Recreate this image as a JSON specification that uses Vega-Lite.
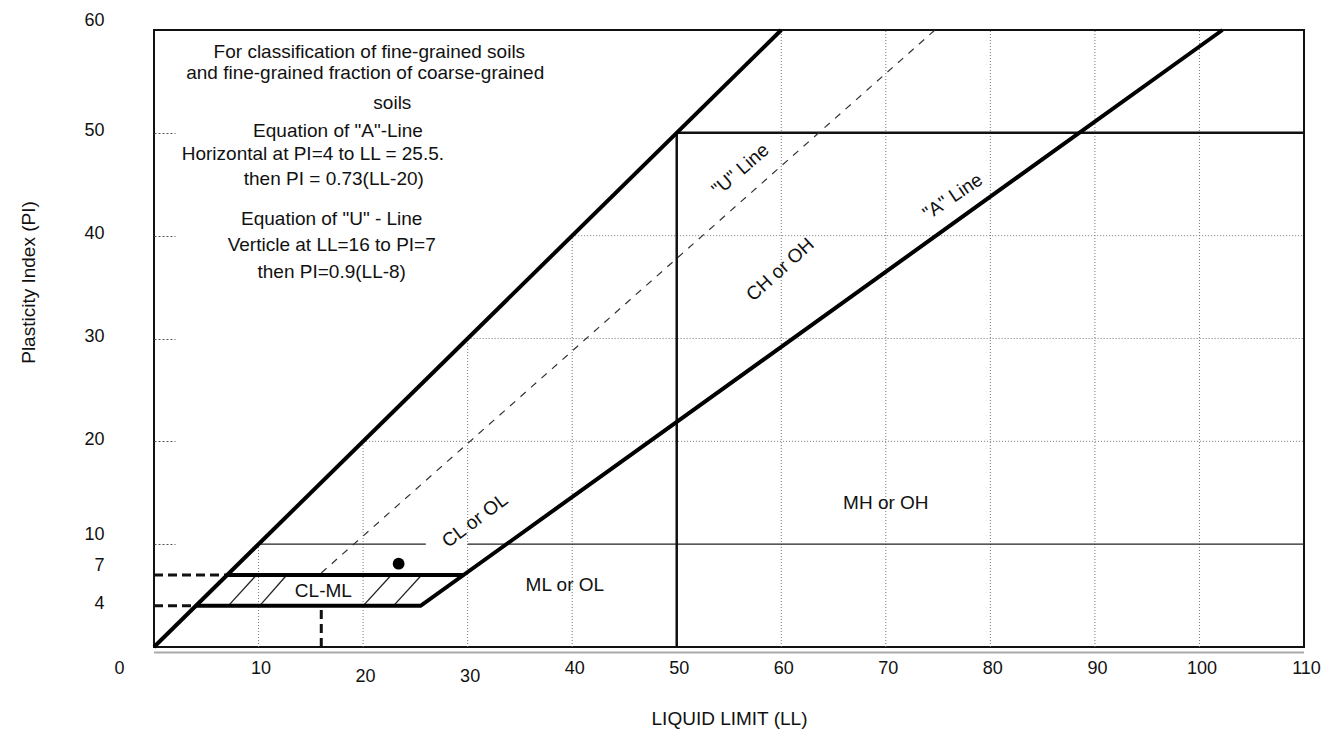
{
  "$schema": "https://vega.github.io/schema/vega-lite/v6.json",
  "width": 1150,
  "height": 617,
  "autosize": {"type": "none"},
  "padding": {"left": 154, "top": 30, "right": 35, "bottom": 93},
  "background": "white",
  "config": {
    "view": {"stroke": "#111", "strokeWidth": 2},
    "font": "Liberation Sans",
    "text": {"font": "Liberation Sans", "fontSize": 19, "color": "#111"}
  },
  "datasets": {
    "grid": [
      {"LL": 10, "PI": 0, "LL2": 10, "PI2": 10},
      {"LL": 20, "PI": 0, "LL2": 20, "PI2": 20},
      {"LL": 30, "PI": 0, "LL2": 30, "PI2": 30},
      {"LL": 40, "PI": 0, "LL2": 40, "PI2": 40},
      {"LL": 60, "PI": 0, "LL2": 60, "PI2": 60},
      {"LL": 70, "PI": 0, "LL2": 70, "PI2": 60},
      {"LL": 80, "PI": 0, "LL2": 80, "PI2": 60},
      {"LL": 90, "PI": 0, "LL2": 90, "PI2": 60},
      {"LL": 100, "PI": 0, "LL2": 100, "PI2": 60},
      {"LL": 20, "PI": 20, "LL2": 110, "PI2": 20},
      {"LL": 30, "PI": 30, "LL2": 110, "PI2": 30},
      {"LL": 40, "PI": 40, "LL2": 110, "PI2": 40}
    ],
    "thin": [
      {"LL": 10, "PI": 10, "LL2": 26, "PI2": 10},
      {"LL": 30, "PI": 10, "LL2": 110, "PI2": 10},
      {"LL": 7.1, "PI": 4, "LL2": 9.8, "PI2": 7},
      {"LL": 10.1, "PI": 4, "LL2": 12.7, "PI2": 7},
      {"LL": 20.0, "PI": 4, "LL2": 22.7, "PI2": 7},
      {"LL": 22.9, "PI": 4, "LL2": 25.6, "PI2": 7}
    ],
    "medium": [
      {"LL": 50, "PI": 0, "LL2": 50, "PI2": 50},
      {"LL": 50, "PI": 50, "LL2": 110, "PI2": 50}
    ],
    "dashthick": [
      {"LL": 0, "PI": 4, "LL2": 4, "PI2": 4},
      {"LL": 0, "PI": 7, "LL2": 7, "PI2": 7},
      {"LL": 16, "PI": 0, "LL2": 16, "PI2": 4}
    ],
    "uline": [
      {"LL": 16, "PI": 7.2, "LL2": 74.7, "PI2": 60}
    ],
    "thick": [
      {"seg": "upper", "o": 1, "LL": 0, "PI": 0},
      {"seg": "upper", "o": 2, "LL": 60, "PI": 60},
      {"seg": "A", "o": 1, "LL": 4, "PI": 4},
      {"seg": "A", "o": 2, "LL": 25.5, "PI": 4},
      {"seg": "A", "o": 3, "LL": 102.2, "PI": 60},
      {"seg": "P7", "o": 1, "LL": 7, "PI": 7},
      {"seg": "P7", "o": 2, "LL": 29.6, "PI": 7}
    ],
    "note": [
      {"t": "For classification of fine-grained soils", "LL": 20.6, "PI": 57.9},
      {"t": "and fine-grained fraction of coarse-grained", "LL": 20.2, "PI": 55.8},
      {"t": "soils", "LL": 22.8, "PI": 52.9},
      {"t": "Equation of \"A\"-Line", "LL": 17.6, "PI": 50.2},
      {"t": "Horizontal at PI=4 to LL = 25.5.", "LL": 15.2, "PI": 47.9},
      {"t": "then PI = 0.73(LL-20)", "LL": 17.2, "PI": 45.5},
      {"t": "Equation of \"U\" - Line", "LL": 17.0, "PI": 41.6},
      {"t": "Verticle at LL=16 to PI=7", "LL": 17.0, "PI": 39.1},
      {"t": "then PI=0.9(LL-8)", "LL": 17.0, "PI": 36.5}
    ],
    "zones": [
      {"t": "MH or OH", "LL": 70.0, "PI": 14.0},
      {"t": "ML or OL", "LL": 39.3, "PI": 6.0},
      {"t": "CL-ML", "LL": 16.2, "PI": 5.4}
    ],
    "dot": [
      {"LL": 23.4, "PI": 8.1}
    ]
  },
  "encoding": {
    "x": {
      "field": "LL", "type": "quantitative",
      "scale": {"domain": [0, 110], "nice": false, "zero": false},
      "axis": {
        "values": [0, 10, 20, 30, 40, 50, 60, 70, 80, 90, 100, 110],
        "grid": false, "ticks": false,
        "domain": true, "domainColor": "#555", "domainDash": [1, 1], "domainWidth": 2,
        "offset": 5,
        "labelFont": "Liberation Sans", "labelFontSize": 18, "labelColor": "#111",
        "labelPadding": {"condition": {"test": "datum.value === 20 || datum.value === 30", "value": 15}, "value": 7},
        "labelFlush": false, "labelOverlap": false,
        "labelOffset": {"condition": {"test": "datum.value === 0", "value": -35}, "value": 2},
        "title": "LIQUID LIMIT (LL)",
        "titleFont": "Liberation Sans", "titleFontSize": 19, "titleFontWeight": "normal", "titleColor": "#111",
        "titleY": 57, "titleBaseline": "top"
      }
    },
    "y": {
      "field": "PI", "type": "quantitative",
      "scale": {"domain": [0, 60], "nice": false, "zero": false},
      "axis": {
        "values": [4, 7, 10, 20, 30, 40, 50, 60],
        "grid": false, "domain": false,
        "ticks": true, "tickSize": -21, "tickColor": "#555", "tickDash": [2, 2], "tickWidth": 1,
        "tickOpacity": {"condition": {"test": "datum.value === 4 || datum.value === 7 || datum.value === 60", "value": 0}, "value": 1},
        "labelFont": "Liberation Sans", "labelFontSize": 18, "labelColor": "#111",
        "labelPadding": 71, "labelFlush": false, "labelOverlap": false,
        "labelOffset": {"condition": {"test": "datum.value === 60 || datum.value === 10 || datum.value === 7", "value": -10}, "value": -2},
        "title": "Plasticity Index (PI)",
        "titleFont": "Liberation Sans", "titleFontSize": 19, "titleFontWeight": "normal", "titleColor": "#111",
        "titleX": -126, "titleY": 252, "titleBaseline": "middle"
      }
    }
  },
  "layer": [
    {
      "data": {"name": "grid"},
      "mark": {"type": "rule", "stroke": "#777", "strokeWidth": 1, "strokeDash": [1, 2]},
      "encoding": {"x2": {"field": "LL2"}, "y2": {"field": "PI2"}}
    },
    {
      "data": {"name": "thin"},
      "mark": {"type": "rule", "stroke": "#222", "strokeWidth": 1.3},
      "encoding": {"x2": {"field": "LL2"}, "y2": {"field": "PI2"}}
    },
    {
      "data": {"name": "medium"},
      "mark": {"type": "rule", "stroke": "#111", "strokeWidth": 2.5},
      "encoding": {"x2": {"field": "LL2"}, "y2": {"field": "PI2"}}
    },
    {
      "data": {"name": "dashthick"},
      "mark": {"type": "rule", "stroke": "#111", "strokeWidth": 3, "strokeDash": [9, 5]},
      "encoding": {"x2": {"field": "LL2"}, "y2": {"field": "PI2"}}
    },
    {
      "data": {"name": "uline"},
      "mark": {"type": "rule", "stroke": "#333", "strokeWidth": 1.2, "strokeDash": [7, 7]},
      "encoding": {"x2": {"field": "LL2"}, "y2": {"field": "PI2"}}
    },
    {
      "data": {"name": "thick"},
      "mark": {"type": "line", "stroke": "#000", "strokeWidth": 4, "strokeJoin": "miter"},
      "encoding": {"detail": {"field": "seg"}, "order": {"field": "o"}}
    },
    {
      "data": {"name": "dot"},
      "mark": {"type": "circle", "size": 140, "color": "#000", "opacity": 1},
      "encoding": {}
    },
    {
      "data": {"name": "note"},
      "mark": {"type": "text", "align": "center", "baseline": "middle", "fontSize": 19},
      "encoding": {"text": {"field": "t"}}
    },
    {
      "data": {"name": "zones"},
      "mark": {"type": "text", "align": "center", "baseline": "middle", "fontSize": 19},
      "encoding": {"text": {"field": "t"}}
    },
    {
      "data": {"values": [{"t": "CL or OL", "LL": 30.7, "PI": 12.3}]},
      "mark": {"type": "text", "align": "center", "baseline": "middle", "fontSize": 19, "angle": 323},
      "encoding": {"text": {"field": "t"}}
    },
    {
      "data": {"values": [{"t": "CH or OH", "LL": 59.9, "PI": 36.7}]},
      "mark": {"type": "text", "align": "center", "baseline": "middle", "fontSize": 19, "angle": 318},
      "encoding": {"text": {"field": "t"}}
    },
    {
      "data": {"values": [{"t": "\"U\" Line", "LL": 56.1, "PI": 46.4}]},
      "mark": {"type": "text", "align": "center", "baseline": "middle", "fontSize": 19, "angle": 319},
      "encoding": {"text": {"field": "t"}}
    },
    {
      "data": {"values": [{"t": "\"A\" Line", "LL": 76.4, "PI": 43.8}]},
      "mark": {"type": "text", "align": "center", "baseline": "middle", "fontSize": 19, "angle": 326},
      "encoding": {"text": {"field": "t"}}
    }
  ]
}
